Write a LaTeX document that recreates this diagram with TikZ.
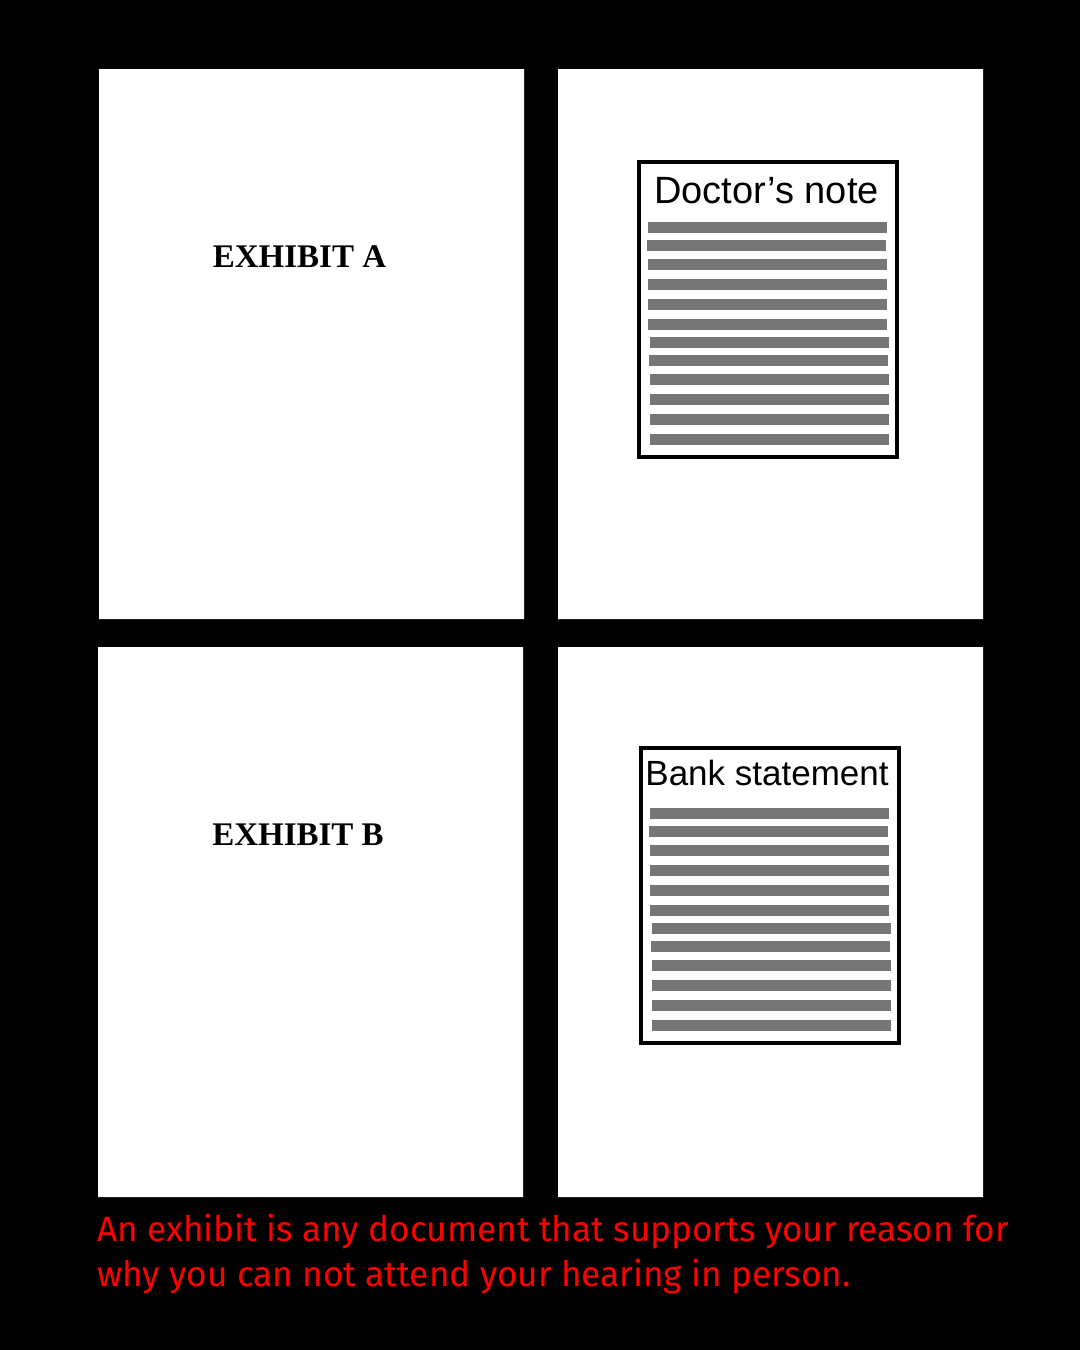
\documentclass[tikz,border=0pt]{standalone}
\usepackage{fontspec}
\setmainfont{Liberation Serif}
\newfontfamily\arialfont{Liberation Sans}
\newfontfamily\capfont{Fira Sans}
\usetikzlibrary{positioning}
\definecolor{bargray}{HTML}{767676}
\begin{document}
\begin{tikzpicture}[x=1pt,y=-1pt,line join=miter]
    \tikzset{
        panel/.style={fill=white},
        sheet/.style={draw=black,line width=4pt,fill=white},
        bar/.style={fill=bargray},
        exlabel/.style={anchor=base,inner sep=0pt,font=\bfseries\fontsize{33}{33}\selectfont},
        captext/.style={anchor=base west,inner sep=0pt,text=red,font=\capfont\fontsize{35.2}{35.2}\selectfont}
    }
    \fill[black] (0,0) rectangle (1080,1350);
    \useasboundingbox (0,0) rectangle (1080,1350);
    % the four pages
    \fill[panel]
    (99,69) rectangle (524,619)
    (558,69) rectangle (983,619)
    (98,647) rectangle (523,1197)
    (558,647) rectangle (983,1197)
    ;
    \node[exlabel] (exA) at (299.5,267) {EXHIBIT A};
    \node[exlabel] (exB) at (298,845) {EXHIBIT B};
    % the two documents
    \foreach \dx/\dy/\fs/\tx/\ty/\nm/\txt in {0/0/38/766.5/203.5/dn/Doctor’s note, 2/586/35/765/199.5/bs/Bank statement}{
        \begin{scope}[shift={(\dx,\dy)}]
            \draw[sheet] (639,162) rectangle (897,457);
            \foreach \t/\s in {62/0,80/-1,99/0,119/0,139/0,159/0,177/2,195/1,214/2,234/2,254/2,274/2}
                \fill[bar] (648+\s,160+\t) rectangle ++(239,10.7);
            \node[anchor=base,inner sep=0pt,font=\arialfont\fontsize{\fs}{\fs}\selectfont] (\nm) at (\tx,\ty) {\txt};
        \end{scope}
    }
    % caption
    \node[captext] (cap1) at (97,1241.7) {An exhibit is any document that supports your reason for};
    \node[captext] (cap2) at (97,1286) {why you can not attend your hearing in person.};
\end{tikzpicture}
\end{document}
